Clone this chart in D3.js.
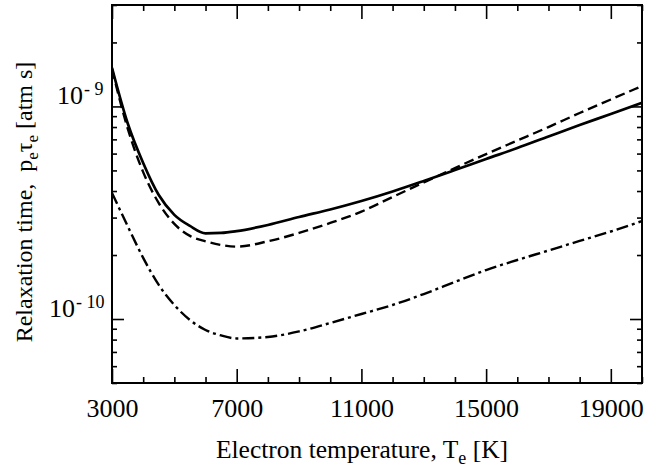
<!DOCTYPE html>
<html>
<head>
<meta charset="utf-8">
<script src="https://cdn.jsdelivr.net/npm/d3@7"></script>
<style>
  body { margin: 0; background: #fff; }
</style>
</head>
<body>
<div id="chart"></div>
<script>
//////////////////////////////
// DATA
//////////////////////////////

const temps = [3000, 3500, 4000, 4500, 5000, 5500, 6000, 6500, 7000, 8000, 9000, 10000,
	11000, 12000, 13000, 14000, 15000, 16000, 17000, 18000, 19000, 20000]

// solid curve
const solidVals = [1.52e-9, 8.36e-10, 5.42e-10, 3.83e-10, 3.09e-10, 2.74e-10, 2.53e-10, 2.54e-10,
	2.59e-10, 2.77e-10, 3.02e-10, 3.275e-10, 3.59e-10, 3.98e-10, 4.46e-10, 5.02e-10, 5.66e-10,
	6.37e-10, 7.22e-10, 8.18e-10, 9.21e-10, 1.04e-9]

// dashed curve
const dashedVals = [1.50e-9, 7.91e-10, 4.91e-10, 3.51e-10, 2.80e-10, 2.46e-10, 2.32e-10, 2.23e-10,
	2.19e-10, 2.32e-10, 2.54e-10, 2.83e-10, 3.20e-10, 3.75e-10, 4.39e-10, 5.13e-10, 5.97e-10,
	6.91e-10, 8.00e-10, 9.31e-10, 1.078e-9, 1.248e-9]

// dash-dot curve
const dashDotVals = [3.92e-10, 2.74e-10, 1.94e-10, 1.446e-10, 1.164e-10, 9.89e-11, 8.88e-11, 8.37e-11,
	8.10e-11, 8.23e-11, 8.74e-11, 9.58e-11, 1.056e-10, 1.164e-10, 1.311e-10, 1.494e-10, 1.70e-10,
	1.895e-10, 2.10e-10, 2.33e-10, 2.58e-10, 2.89e-10]

const xMajorTicks = [3000, 7000, 11000, 15000, 19000]
const xMinorTicks = [4000, 5000, 6000, 8000, 9000, 10000, 12000, 13000, 14000, 16000, 17000, 18000, 20000]
const yDecades = [-9, -10]

//////////////////////////////
// CHART
//////////////////////////////

const FONT = "'Liberation Serif', 'DejaVu Serif', serif"
const width = 647
const height = 471
const margin = { top: 5, right: 5, bottom: 88, left: 112 }
const innerW = width - margin.left - margin.right
const innerH = height - margin.top - margin.bottom

const svg = d3.select("#chart").append("svg").attr("width", width).attr("height", height)
	.style("font-family", FONT)
const g = svg.append("g").attr("transform", "translate(" + margin.left + "," + margin.top + ")")

const x = d3.scaleLinear().domain([3000, 20000]).range([0, innerW])
const y = d3.scaleLog().domain([5e-11, 3e-9]).range([innerH, 0])

const yMajor = yDecades.map(e => Math.pow(10, e))
const yMinor = y.ticks().filter(v => !yMajor.some(m => Math.abs(v - m) / m < 1e-6))

const styleAxis = (sel) => {
	sel.attr("font-family", null)
	sel.select(".domain").remove()
	sel.selectAll(".tick line").attr("stroke", "#000").attr("stroke-width", 1.6)
}

// x ticks, bottom and top, pointing inward
g.append("g").attr("transform", "translate(0," + innerH + ")")
	.call(d3.axisBottom(x).tickValues(xMinorTicks).tickSize(-6).tickFormat(""))
	.call(styleAxis)
g.append("g").attr("transform", "translate(0," + innerH + ")")
	.call(d3.axisBottom(x).tickValues(xMajorTicks).tickSize(-14).tickPadding(18).tickFormat(d3.format("d")))
	.call(styleAxis)
	.call(s => s.selectAll("text").attr("font-size", 26).attr("dy", "0.62em")
		.style("font-family", FONT).attr("fill", "#000"))
g.append("g")
	.call(d3.axisTop(x).tickValues(xMinorTicks).tickSize(-6).tickFormat(""))
	.call(styleAxis)
g.append("g")
	.call(d3.axisTop(x).tickValues(xMajorTicks).tickSize(-14).tickFormat(""))
	.call(styleAxis)

// y ticks, left and right
g.append("g").call(d3.axisLeft(y).tickValues(yMinor).tickSize(-5).tickFormat("")).call(styleAxis)
g.append("g").call(d3.axisLeft(y).tickValues(yMajor).tickSize(-12).tickFormat("")).call(styleAxis)
g.append("g").attr("transform", "translate(" + innerW + ",0)")
	.call(d3.axisRight(y).tickValues(yMinor).tickSize(-5).tickFormat("")).call(styleAxis)
g.append("g").attr("transform", "translate(" + innerW + ",0)")
	.call(d3.axisRight(y).tickValues(yMajor).tickSize(-12).tickFormat("")).call(styleAxis)

// y tick labels 10^-n, base and exponent as separate texts
yDecades.forEach(e => {
	let yy = y(Math.pow(10, e)) - 2
	let xBase = e === -9 ? -29 : -37
	g.append("text")
		.attr("x", xBase).attr("y", yy)
		.attr("text-anchor", "end")
		.style("font-family", FONT).attr("font-size", 26)
		.text("10")
	g.append("text")
		.attr("x", xBase + 1).attr("y", yy - 9)
		.attr("text-anchor", "start")
		.style("font-family", FONT).attr("font-size", 18)
		.text("- " + (-e))
})

// curves
const line = d3.line().x((d, i) => x(temps[i])).y(d => y(d)).curve(d3.curveMonotoneX)

const series = [
	{ vals: solidVals, dash: null, w: 2.7 },
	{ vals: dashedVals, dash: "10,5", w: 2.4 },
	{ vals: dashDotVals, dash: "12,4,3,4", w: 2.4 }
]

g.append("clipPath").attr("id", "clip").append("rect").attr("width", innerW).attr("height", innerH)

series.forEach(s => {
	g.append("path")
		.datum(s.vals)
		.attr("d", line)
		.attr("fill", "none")
		.attr("stroke", "#000")
		.attr("stroke-width", s.w)
		.attr("stroke-dasharray", s.dash)
		.attr("clip-path", "url(#clip)")
})

// frame
g.append("rect").attr("width", innerW).attr("height", innerH)
	.attr("fill", "none").attr("stroke", "#000").attr("stroke-width", 2)

// axis titles
let xt = svg.append("text")
	.attr("x", 362).attr("y", 458)
	.attr("text-anchor", "middle")
	.style("font-family", FONT).attr("font-size", 25.5)
xt.append("tspan").text("Electron temperature, T")
xt.append("tspan").attr("dy", 6).attr("font-size", 18).text("e")
xt.append("tspan").attr("dy", -6).text(" [K]")

let yt = svg.append("text")
	.attr("transform", "translate(32,202) rotate(-90)")
	.attr("text-anchor", "middle")
	.style("font-family", FONT).attr("font-size", 24)
yt.append("tspan").text("Relaxation time,\u00a0\u00a0p")
yt.append("tspan").attr("dy", 6).attr("font-size", 17).text("e")
yt.append("tspan").attr("dy", -6).text("\u03c4")
yt.append("tspan").attr("dy", 6).attr("font-size", 17).text("e")
yt.append("tspan").attr("dy", -6).text(" [atm s]")
</script>
</body>
</html>
